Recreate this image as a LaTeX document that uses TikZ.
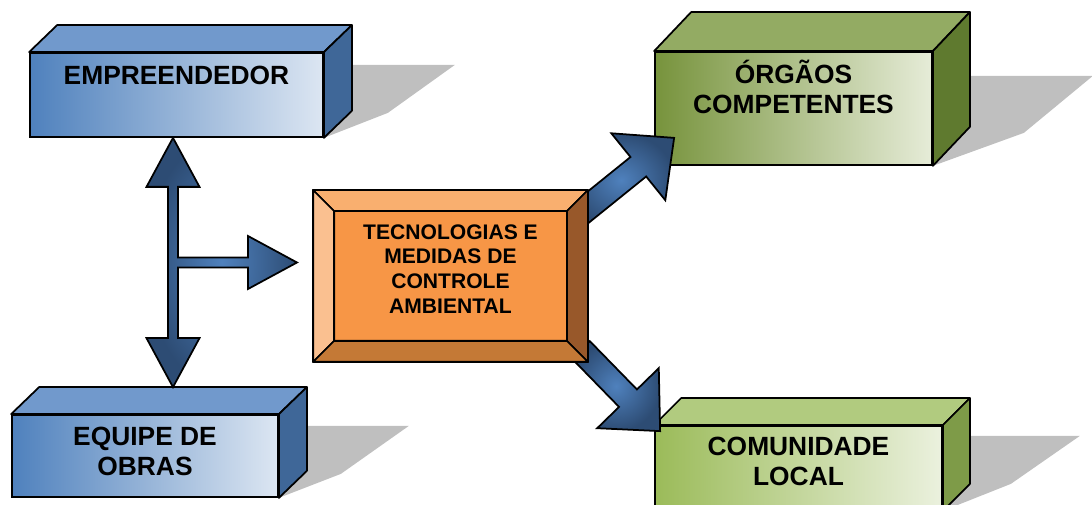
\documentclass[tikz,border=0pt]{standalone}
\usepackage{fontspec}
\setmainfont{Liberation Sans}
\usetikzlibrary{calc}
\usetikzlibrary{positioning}
\usetikzlibrary{backgrounds}

\definecolor{blueleft}{HTML}{4F81BD}
\definecolor{blueright}{HTML}{DCE6F2}
\definecolor{bluetop}{HTML}{7199CC}
\definecolor{blueside}{HTML}{3F6798}
\definecolor{oliveleft}{HTML}{77933C}
\definecolor{oliveright}{HTML}{E6ECD8}
\definecolor{olivetop}{HTML}{93AB63}
\definecolor{oliveside}{HTML}{5F7A2F}
\definecolor{limeleft}{HTML}{9BBB59}
\definecolor{limeright}{HTML}{EBF1DE}
\definecolor{limetop}{HTML}{B1CB7F}
\definecolor{limeside}{HTML}{7E9B48}
\definecolor{orangeface}{HTML}{F79646}
\definecolor{orangetop}{HTML}{F9AF6F}
\definecolor{orangeleft}{HTML}{FAC090}
\definecolor{orangeright}{HTML}{98582A}
\definecolor{orangebottom}{HTML}{C47936}
\definecolor{shadowgray}{HTML}{BFBFBF}
\definecolor{arrowlight}{HTML}{4F81BD}
\definecolor{arrowdark}{HTML}{2D4C74}

\tikzset{
  frontface/.style={rectangle, draw=black, line width=1pt, inner sep=0pt},
  sideface/.style={draw=black, line width=1pt, line join=round},
  boxtext/.style={font=\fontsize{15}{17}\selectfont\bfseries, align=center, inner sep=0pt},
  centertext/.style={font=\fontsize{12}{14}\selectfont\bfseries, align=center, inner sep=0pt},
  blockarrow/.style={draw=black, line width=1pt, line join=miter, inner color=arrowlight, outer color=arrowdark},
}

% top and right faces of a box: node, depth offset, top colour, side colour
\newcommand{\slabsides}[4]{%
  \draw[sideface, fill=#3] (#1.north west) -- ++(#2) -- ($(#1.north east)+(#2)$) -- (#1.north east) -- cycle;
  \draw[sideface, fill=#4] (#1.north east) -- ++(#2) -- ($(#1.south east)+(#2)$) -- (#1.south east) -- cycle;
}

% fat arrow from coordinate #1 to tip #2
\newcommand{\blockconnector}[2]{%
  \coordinate (hb) at ($(#2)!0.92cm!(#1)$);
  \draw[blockarrow] ($(#1)!0.25cm!90:(#2)$) -- ($(hb)!0.25cm!-90:(#1)$) -- ($(hb)!0.86cm!-90:(#1)$) -- (#2)
    -- ($(hb)!0.86cm!90:(#1)$) -- ($(hb)!0.25cm!90:(#1)$) -- ($(#1)!0.25cm!-90:(#2)$) -- cycle;
}

\begin{document}
\begin{tikzpicture}

\useasboundingbox (0,0) rectangle (21.84,10.10);

%% boxes
\node at (3.53,8.20) [frontface, left color=blueleft, right color=blueright, minimum width=5.86cm, minimum height=1.68cm] (emp) {};
\slabsides{emp}{0.56,0.54}{bluetop}{blueside}
\node [boxtext, below=0.28cm of emp.north] (emptext) {EMPREENDEDOR};

\node at (2.90,0.98) [frontface, left color=blueleft, right color=blueright, minimum width=5.32cm, minimum height=1.64cm] (eqp) {};
\slabsides{eqp}{0.56,0.54}{bluetop}{blueside}
\node [boxtext, below=0.26cm of eqp.north] (eqptext) {EQUIPE DE\\OBRAS};

\node at (15.87,7.93) [frontface, left color=oliveleft, right color=oliveright, minimum width=5.54cm, minimum height=2.26cm] (org) {};
\slabsides{org}{0.74,0.78}{olivetop}{oliveside}
\node [boxtext, below=0.18cm of org.north] (orgtext) {ÓRGÃOS\\COMPETENTES};

\node at (15.97,0.74) [frontface, left color=limeleft, right color=limeright, minimum width=5.74cm, minimum height=1.68cm] (com) {};
\slabsides{com}{0.54,0.54}{limetop}{limeside}
\node [boxtext, below=0.24cm of com.north] (comtext) {COMUNIDADE\\LOCAL};

%% shadows
\begin{pgfonlayer}{background}
	\fill[shadowgray] (emp.south east) -- ++(1.28,0.50) -- ++(1.34,0.96) -- ++(-2.62,0) -- cycle;
	\fill[shadowgray] (eqp.south east) -- ++(1.24,0.48) -- ++(1.36,0.96) -- ++(-2.60,0) -- cycle;
	\fill[shadowgray] (org.south east) -- ++(1.82,0.66) -- ++(1.38,1.14) -- ++(-3.20,0) -- cycle;
	\fill[shadowgray] (com.south east) -- ++(1.36,0.54) -- ++(1.38,0.96) -- ++(-2.74,0) -- cycle;
\end{pgfonlayer}

%% arrows
\coordinate (tup) at ($(emp.south)+(-0.07,0)$);
\coordinate (tdown) at ($(eqp.north)+(0.56,0.54)$);
\coordinate (tright) at (5.94,4.85);
\draw[blockarrow] (tup) -- ++(0.53,-0.98) -- ++(-0.43,0) -- ($(tup |- tright)+(0.10,0.10)$) -- ($(tright)+(-0.98,0.10)$) -- ++(0,0.43) -- (tright)
	-- ++(-0.98,-0.53) -- ++(0,0.43) -- ($(tup |- tright)+(0.10,-0.10)$) -- ($(tdown)+(0.10,0.98)$) -- ++(0.43,0) -- (tdown)
	-- ++(-0.53,0.98) -- ++(0.43,0) -- ($(tup)+(-0.10,-0.98)$) -- ++(-0.43,0) -- cycle;

\node at (9.01,4.58) [rectangle, draw=black, line width=1pt, fill=orangeface, minimum width=5.46cm, minimum height=3.40cm] (tec) {};

\coordinate (upstart) at ($(tec.north east)+(-0.24,-0.54)$);
\coordinate (uptip) at ($(org.south west)+(0.40,0.56)$);
\coordinate (downstart) at ($(tec.south east)+(-0.14,0.24)$);
\coordinate (downtip) at ($(com.north west)+(0.12,-0.12)$);
\blockconnector{upstart}{uptip}
\blockconnector{downstart}{downtip}

%% centre box, bevelled
\draw[sideface, fill=orangeface] (tec.north west) rectangle (tec.south east);
\draw[sideface, fill=orangetop] (tec.north west) -- (tec.north east) -- ($(tec.north east)+(-0.42,-0.42)$) -- ($(tec.north west)+(0.42,-0.42)$) -- cycle;
\draw[sideface, fill=orangeleft] (tec.north west) -- ($(tec.north west)+(0.42,-0.42)$) -- ($(tec.south west)+(0.42,0.42)$) -- (tec.south west) -- cycle;
\draw[sideface, fill=orangeright] (tec.north east) -- ($(tec.north east)+(-0.42,-0.42)$) -- ($(tec.south east)+(-0.42,0.42)$) -- (tec.south east) -- cycle;
\draw[sideface, fill=orangebottom] (tec.south west) -- ($(tec.south west)+(0.42,0.42)$) -- ($(tec.south east)+(-0.42,0.42)$) -- (tec.south east) -- cycle;
\node [centertext, below=0.68cm of tec.north] (tectext) {TECNOLOGIAS E\\MEDIDAS DE\\CONTROLE\\AMBIENTAL};

\end{tikzpicture}
\end{document}
